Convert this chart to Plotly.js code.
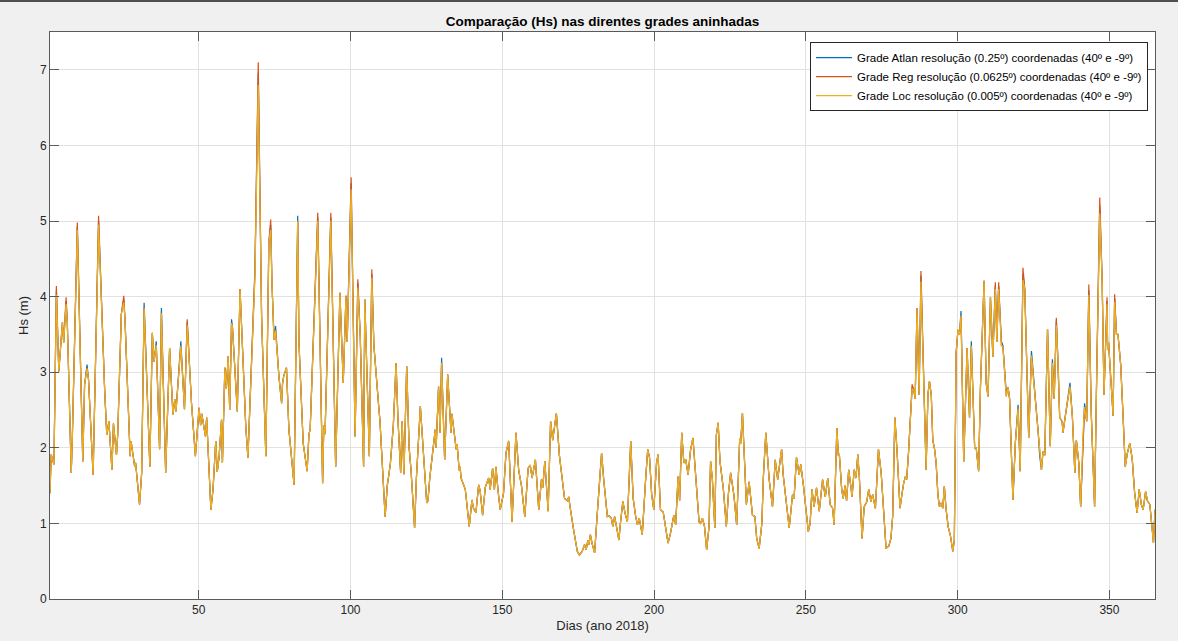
<!DOCTYPE html>
<html>
<head>
<meta charset="utf-8">
<script src="https://cdn.plot.ly/plotly-3.0.1.min.js"></script>
<style>
  html, body { margin: 0; padding: 0; background: #f0f0f0; }
  #chart { width: 1178px; height: 641px; }
</style>
</head>
<body>
<div id="chart"></div>
<script>
// Dia do ano (2018)
const dias = [
  1.0,1.4,2.3,3.1,3.9,4.5,5.1,5.5,6.3,6.7,
  8.0,8.4,10.0,11.8,12.4,13.2,13.7,15.2,17.0,19.0,
  19.7,20.4,21.4,21.9,22.9,23.3,24.5,25.3,25.7,27.4,
  27.7,28.9,29.2,30.5,31.2,32.0,33.9,34.7,35.3,36.0,
  37.1,37.7,39.1,40.4,41.5,42.1,42.5,44.1,45.3,46.2,
  47.6,48.9,50.1,50.6,51.0,52.2,52.6,54.0,54.7,55.6,
  56.1,56.7,57.5,57.8,58.6,59.1,59.7,60.2,60.8,61.1,
  62.7,63.6,65.5,66.2,66.8,68.5,69.6,70.7,72.1,73.1,
  73.7,74.1,74.8,75.3,76.4,77.3,77.6,78.0,78.9,79.7,
  81.4,82.6,83.0,84.4,85.7,86.3,86.7,88.3,89.2,90.8,
  91.2,91.6,93.5,95.1,96.5,97.6,98.5,98.9,100.2,101.5,
  102.4,103.2,104.3,104.7,105.1,106.2,107.0,107.7,109.2,109.7,
  111.4,112.1,113.1,113.7,114.1,115.0,115.6,116.5,117.0,117.6,
  118.5,119.3,119.9,121.1,121.7,123.0,123.5,124.1,125.1,125.5,
  126.1,127.9,128.2,129.0,129.5,130.0,131.0,132.0,132.5,133.1,
  133.4,134.8,135.1,135.8,136.1,136.4,137.8,139.1,140.0,140.5,
  141.3,142.2,142.7,143.5,144.4,145.5,146.0,146.8,147.4,147.9,
  148.6,149.3,150.4,151.2,152.1,153.2,154.5,155.4,156.3,157.4,
  158.5,159.2,159.8,160.9,162.0,162.9,163.3,164.0,165.1,165.9,
  166.6,167.8,168.8,169.7,170.5,171.4,171.9,172.2,173.0,173.5,
  174.7,175.4,176.3,177.1,177.6,178.2,178.5,179.0,179.6,180.4,
  181.3,181.8,182.7,183.4,184.6,185.1,185.9,186.4,187.0,187.6,
  188.4,188.9,189.7,190.4,191.2,192.3,193.1,193.9,194.5,195.1,
  196.1,197.2,197.9,198.5,199.2,199.9,200.8,201.3,202.1,203.0,
  203.8,204.6,205.4,206.5,207.1,207.9,208.4,209.1,209.8,210.4,
  211.2,212.0,212.8,213.9,214.8,215.3,215.9,216.6,217.3,218.1,
  218.6,219.2,220.0,220.5,221.1,221.7,222.8,223.8,224.5,225.2,
  226.3,227.2,228.2,228.5,229.1,230.4,231.3,232.4,233.2,233.8,
  234.6,235.5,236.0,236.8,237.9,239.0,239.9,240.7,241.2,242.0,
  242.5,243.2,244.5,245.6,246.1,246.9,247.8,248.3,249.2,250.8,
  251.4,252.0,252.7,253.5,254.4,255.5,256.4,257.2,258.0,258.8,
  259.3,260.2,260.7,261.0,261.8,262.3,262.9,263.4,264.1,264.9,
  265.2,265.9,266.5,267.1,267.6,268.5,269.2,270.0,270.7,271.4,
  272.0,272.9,273.9,274.8,276.4,277.3,278.0,278.6,279.3,280.0,
  281.0,281.7,282.2,282.8,283.2,283.8,284.3,285.0,285.5,286.0,
  286.6,287.3,287.9,288.5,289.6,290.2,290.7,291.3,291.8,292.4,
  292.9,293.5,294.0,294.6,295.1,295.6,296.2,296.9,297.6,298.4,
  298.9,299.5,300.1,300.6,301.1,302.0,302.6,303.1,303.9,304.5,
  305.6,306.1,306.9,307.5,308.7,309.4,310.0,310.8,311.6,312.4,
  312.9,313.5,314.4,314.9,316.0,316.6,317.1,318.2,319.0,319.9,
  320.6,321.5,322.1,323.4,324.3,325.0,325.7,326.5,327.0,327.6,
  328.1,328.7,329.6,330.5,331.2,331.8,332.5,333.1,333.6,334.4,
  334.7,335.2,336.1,337.0,337.8,338.6,339.1,339.9,340.5,341.3,
  341.8,342.5,343.2,344.0,345.1,345.7,346.8,347.6,348.2,349.2,
  349.4,349.7,351.2,351.7,352.3,352.8,353.7,354.5,355.2,355.9,
  356.7,357.5,358.3,359.1,359.8,360.5,361.1,361.9,362.5,363.3,
  364.1,364.5,365.0
];

// Grade Atlan (0.25º)
const hsAtlan = [
  1.40,1.91,1.78,4.08,3.01,3.34,3.66,3.39,3.94,3.66,
  1.67,2.2,4.93,1.82,2.84,3.10,2.9,1.64,5.00,2.77,
  2.17,2.35,1.71,2.32,1.91,2.17,3.77,3.96,3.7,1.89,
  2.09,1.75,1.8,1.25,1.67,3.92,1.75,3.52,3.14,3.41,
  1.98,3.85,1.67,3.32,2.44,2.64,2.48,3.41,2.51,3.66,
  2.60,1.89,2.53,2.3,2.45,2.15,2.4,1.18,1.45,2.09,
  1.68,1.88,2.37,1.8,3.06,2.78,3.21,2.5,3.70,3.6,
  2.48,4.10,2.28,1.87,2.5,4.30,6.95,3.74,1.89,4.72,
  4.95,4.2,3.43,3.61,2.95,2.59,2.85,2.95,3.06,2.24,
  1.51,5.07,3.4,2.06,1.69,2.18,2.24,3.96,5.05,1.53,
  2.3,2.18,5.05,1.75,4.05,2.86,4.01,3.4,5.50,2.15,
  4.18,3.48,1.75,3.96,3.4,1.89,4.30,3.35,2.59,2.35,
  1.09,1.5,1.78,2.17,2.3,3.12,2.4,1.67,2.35,1.65,
  3.08,2.0,1.72,0.94,1.6,2.55,2.25,1.85,1.27,1.3,
  1.6,2.24,2.0,2.81,2.2,3.19,1.84,2.97,2.65,2.2,
  2.45,1.98,2.05,1.7,1.75,1.6,1.45,0.96,1.31,1.2,
  1.14,1.51,1.43,1.11,1.48,1.60,1.45,1.73,1.45,1.75,
  1.43,1.18,1.4,1.93,2.09,1.02,2.20,1.7,1.5,1.09,
  1.73,1.77,1.6,1.84,1.18,1.58,1.47,1.82,1.16,2.35,
  2.1,2.46,1.9,1.55,1.33,1.3,1.35,1.25,1.0,0.91,
  0.63,0.58,0.63,0.72,0.65,0.78,0.72,0.85,0.73,0.61,
  1.14,1.4,1.93,1.58,1.09,1.1,1.07,0.96,1.09,0.96,
  0.78,1.0,1.29,1.14,1.02,2.09,1.33,1.1,0.98,1.07,
  0.85,1.58,1.98,1.87,1.38,1.18,1.8,1.91,1.18,1.15,
  0.91,0.74,0.87,1.11,0.98,1.62,1.3,2.20,1.8,1.85,
  1.64,1.97,2.13,1.46,1.02,1.0,1.07,0.96,0.65,0.96,
  1.82,1.58,0.94,2.17,2.33,1.82,1.46,0.96,1.4,1.67,
  1.37,0.98,2.13,2.05,2.46,1.25,1.55,1.11,1.09,0.80,
  0.67,1.0,1.62,2.20,1.58,1.22,1.84,1.58,1.75,1.98,
  1.65,1.40,0.94,1.38,1.33,1.87,1.64,1.78,1.5,0.89,
  1.0,1.45,1.22,1.47,1.16,1.58,1.35,1.60,1.25,1.2,
  0.98,2.26,1.9,1.92,1.45,1.33,1.5,1.3,1.71,1.46,
  1.35,1.71,1.6,1.91,1.62,0.80,1.22,1.28,1.45,1.29,
  1.38,1.2,1.98,1.67,0.67,0.7,0.80,1.1,2.40,1.98,
  1.20,1.4,1.53,1.62,1.58,1.93,2.27,2.80,2.77,2.65,
  3.85,2.70,4.28,3.3,1.71,2.7,2.88,2.7,2.1,1.98,
  1.8,1.37,1.22,1.27,1.2,1.49,1.18,0.95,0.84,0.63,
  0.78,3.26,3.56,3.5,3.81,1.82,2.7,3.32,2.4,3.41,
  2.0,2.0,1.69,2.8,4.21,2.85,2.68,3.99,3.2,4.14,
  3.4,4.14,3.41,3.35,2.73,2.8,2.65,1.31,2.07,2.57,
  1.69,4.30,4.1,2.13,3.28,2.9,2.6,2.22,1.9,1.71,
  1.95,1.9,3.57,2.02,3.17,2.65,3.68,3.1,2.4,2.35,
  2.2,2.35,2.6,2.86,2.4,1.67,2.1,1.8,1.22,2.2,
  2.59,2.35,4.08,2.46,1.22,2.73,5.20,4.2,2.70,3.94,
  3.3,3.4,2.42,3.98,3.5,3.5,3.10,2.4,1.75,1.93,
  2.06,1.85,1.4,1.14,1.45,1.25,1.18,1.42,1.3,1.25,
  0.96,0.74,1.18
];

// Grade Reg (0.0625º)
const hsReg = [
  1.40,1.91,1.78,4.14,3.01,3.34,3.66,3.39,3.99,3.66,
  1.67,2.2,4.98,1.82,2.84,3.05,2.9,1.64,5.07,2.77,
  2.17,2.35,1.71,2.32,1.91,2.17,3.77,4.01,3.7,1.89,
  2.09,1.75,1.8,1.25,1.67,3.86,1.75,3.52,3.14,3.36,
  1.98,3.79,1.67,3.32,2.44,2.64,2.48,3.35,2.51,3.70,
  2.60,1.89,2.53,2.3,2.45,2.15,2.4,1.18,1.45,2.09,
  1.68,1.88,2.37,1.8,3.06,2.78,3.21,2.5,3.65,3.6,
  2.48,4.10,2.28,1.87,2.5,4.36,7.10,3.74,1.89,4.72,
  5.02,4.2,3.43,3.55,2.95,2.59,2.85,2.95,3.06,2.24,
  1.51,5.00,3.4,2.06,1.69,2.18,2.24,3.96,5.11,1.53,
  2.3,2.18,5.11,1.75,4.05,2.86,4.01,3.4,5.58,2.15,
  4.23,3.48,1.75,3.96,3.4,1.89,4.36,3.35,2.59,2.35,
  1.09,1.5,1.78,2.17,2.3,3.12,2.4,1.67,2.35,1.65,
  3.08,2.0,1.72,0.94,1.6,2.55,2.25,1.85,1.27,1.3,
  1.6,2.24,2.0,2.81,2.2,3.13,1.84,2.97,2.65,2.2,
  2.45,1.98,2.05,1.7,1.75,1.6,1.45,0.96,1.31,1.2,
  1.14,1.51,1.43,1.11,1.48,1.60,1.45,1.73,1.45,1.75,
  1.43,1.18,1.4,1.93,2.09,1.02,2.20,1.7,1.5,1.09,
  1.73,1.77,1.6,1.84,1.18,1.58,1.47,1.82,1.16,2.35,
  2.1,2.46,1.9,1.55,1.33,1.3,1.35,1.25,1.0,0.91,
  0.63,0.58,0.63,0.72,0.65,0.78,0.72,0.85,0.73,0.61,
  1.14,1.4,1.93,1.58,1.09,1.1,1.07,0.96,1.09,0.96,
  0.78,1.0,1.29,1.14,1.02,2.09,1.33,1.1,0.98,1.07,
  0.85,1.58,1.98,1.87,1.38,1.18,1.8,1.91,1.18,1.15,
  0.91,0.74,0.87,1.11,0.98,1.62,1.3,2.20,1.8,1.85,
  1.64,1.97,2.13,1.46,1.02,1.0,1.07,0.96,0.65,0.96,
  1.82,1.58,0.94,2.17,2.33,1.82,1.46,0.96,1.4,1.67,
  1.37,0.98,2.13,2.05,2.46,1.25,1.55,1.11,1.09,0.80,
  0.67,1.0,1.62,2.20,1.58,1.22,1.84,1.58,1.75,1.98,
  1.65,1.40,0.94,1.38,1.33,1.87,1.64,1.78,1.5,0.89,
  1.0,1.45,1.22,1.47,1.16,1.58,1.35,1.60,1.25,1.2,
  0.98,2.26,1.9,1.92,1.45,1.33,1.5,1.3,1.71,1.46,
  1.35,1.71,1.6,1.91,1.62,0.80,1.22,1.28,1.45,1.29,
  1.38,1.2,1.98,1.67,0.67,0.7,0.80,1.1,2.40,1.98,
  1.20,1.4,1.53,1.62,1.58,1.93,2.27,2.84,2.77,2.65,
  3.85,2.70,4.34,3.3,1.71,2.7,2.88,2.7,2.1,1.98,
  1.8,1.37,1.22,1.27,1.2,1.49,1.18,0.95,0.84,0.63,
  0.78,3.26,3.56,3.5,3.75,1.82,2.7,3.32,2.4,3.35,
  2.0,2.0,1.69,2.8,4.21,2.85,2.68,3.99,3.2,4.19,
  3.4,4.19,3.35,3.35,2.68,2.8,2.65,1.31,2.07,2.52,
  1.69,4.38,4.1,2.13,3.22,2.9,2.6,2.22,1.9,1.71,
  1.95,1.9,3.57,2.02,3.12,2.65,3.72,3.1,2.4,2.35,
  2.2,2.35,2.6,2.81,2.4,1.67,2.1,1.8,1.22,2.2,
  2.54,2.35,4.16,2.46,1.22,2.73,5.31,4.2,2.70,3.99,
  3.3,3.4,2.42,4.03,3.5,3.5,3.10,2.4,1.75,1.93,
  2.06,1.85,1.4,1.14,1.45,1.25,1.18,1.42,1.3,1.25,
  0.96,0.74,1.18
];

// Grade Loc (0.005º)
const hsLoc = [
  1.40,1.91,1.78,4.02,3.01,3.34,3.66,3.39,3.90,3.66,
  1.67,2.2,4.88,1.82,2.84,3.05,2.9,1.64,4.95,2.77,
  2.17,2.35,1.71,2.32,1.91,2.17,3.77,3.92,3.7,1.89,
  2.09,1.75,1.8,1.25,1.67,3.85,1.75,3.52,3.14,3.36,
  1.98,3.78,1.67,3.32,2.44,2.64,2.48,3.35,2.51,3.62,
  2.60,1.89,2.53,2.3,2.45,2.15,2.4,1.18,1.45,2.09,
  1.68,1.88,2.37,1.8,3.06,2.78,3.21,2.5,3.65,3.6,
  2.48,4.10,2.28,1.87,2.5,4.25,6.80,3.74,1.89,4.72,
  4.88,4.2,3.43,3.55,2.95,2.59,2.85,2.95,3.06,2.24,
  1.51,5.00,3.4,2.06,1.69,2.18,2.24,3.96,5.00,1.53,
  2.3,2.18,5.00,1.75,4.05,2.86,4.01,3.4,5.42,2.15,
  4.12,3.48,1.75,3.96,3.4,1.89,4.25,3.35,2.59,2.35,
  1.09,1.5,1.78,2.17,2.3,3.12,2.4,1.67,2.35,1.65,
  3.08,2.0,1.72,0.94,1.6,2.55,2.25,1.85,1.27,1.3,
  1.6,2.24,2.0,2.81,2.2,3.12,1.84,2.97,2.65,2.2,
  2.45,1.98,2.05,1.7,1.75,1.6,1.45,0.96,1.31,1.2,
  1.14,1.51,1.43,1.11,1.48,1.60,1.45,1.73,1.45,1.75,
  1.43,1.18,1.4,1.93,2.09,1.02,2.20,1.7,1.5,1.09,
  1.73,1.77,1.6,1.84,1.18,1.58,1.47,1.82,1.16,2.35,
  2.1,2.46,1.9,1.55,1.33,1.3,1.35,1.25,1.0,0.91,
  0.63,0.58,0.63,0.72,0.65,0.78,0.72,0.85,0.73,0.61,
  1.14,1.4,1.93,1.58,1.09,1.1,1.07,0.96,1.09,0.96,
  0.78,1.0,1.29,1.14,1.02,2.09,1.33,1.1,0.98,1.07,
  0.85,1.58,1.98,1.87,1.38,1.18,1.8,1.91,1.18,1.15,
  0.91,0.74,0.87,1.11,0.98,1.62,1.3,2.20,1.8,1.85,
  1.64,1.97,2.13,1.46,1.02,1.0,1.07,0.96,0.65,0.96,
  1.82,1.58,0.94,2.17,2.33,1.82,1.46,0.96,1.4,1.67,
  1.37,0.98,2.13,2.05,2.46,1.25,1.55,1.11,1.09,0.80,
  0.67,1.0,1.62,2.20,1.58,1.22,1.84,1.58,1.75,1.98,
  1.65,1.40,0.94,1.38,1.33,1.87,1.64,1.78,1.5,0.89,
  1.0,1.45,1.22,1.47,1.16,1.58,1.35,1.60,1.25,1.2,
  0.98,2.26,1.9,1.92,1.45,1.33,1.5,1.3,1.71,1.46,
  1.35,1.71,1.6,1.91,1.62,0.80,1.22,1.28,1.45,1.29,
  1.38,1.2,1.98,1.67,0.67,0.7,0.80,1.1,2.40,1.98,
  1.20,1.4,1.53,1.62,1.58,1.93,2.27,2.78,2.77,2.65,
  3.85,2.70,4.20,3.3,1.71,2.7,2.88,2.7,2.1,1.98,
  1.8,1.37,1.22,1.27,1.2,1.49,1.18,0.95,0.84,0.63,
  0.78,3.26,3.56,3.5,3.75,1.82,2.7,3.32,2.4,3.35,
  2.0,2.0,1.69,2.8,4.21,2.85,2.68,3.99,3.2,4.10,
  3.4,4.10,3.35,3.35,2.68,2.8,2.65,1.31,2.07,2.52,
  1.69,4.22,4.1,2.13,3.22,2.9,2.6,2.22,1.9,1.71,
  1.95,1.9,3.57,2.02,3.12,2.65,3.62,3.1,2.4,2.35,
  2.2,2.35,2.6,2.81,2.4,1.67,2.1,1.8,1.22,2.2,
  2.54,2.35,4.02,2.46,1.22,2.73,5.10,4.2,2.70,3.90,
  3.3,3.4,2.42,3.93,3.5,3.5,3.10,2.4,1.75,1.93,
  2.06,1.85,1.4,1.14,1.45,1.25,1.18,1.42,1.3,1.25,
  0.96,0.74,1.18
];

const seriesNames = [
  'Grade Atlan resolução (0.25º) coordenadas (40º e -9º)',
  'Grade Reg resolução (0.0625º) coordenadas (40º e -9º)',
  'Grade Loc resolução (0.005º) coordenadas (40º e -9º)'
];
const seriesColors = ['#0072BD', '#D95319', '#EDB120'];
const xTicks = [50, 100, 150, 200, 250, 300, 350];
const yTicks = [0, 1, 2, 3, 4, 5, 6, 7];

const values = [hsAtlan, hsReg, hsLoc];
const traces = values.map((v, i) => ({
  type: 'scatter',
  mode: 'lines',
  x: dias,
  y: v,
  name: seriesNames[i],
  line: { color: seriesColors[i], width: 1.2 }
}));

const fontFam = 'Arial, "Liberation Sans", Helvetica, sans-serif';
const axisCommon = {
  showline: true,
  linecolor: '#5a5a5a',
  linewidth: 1,
  mirror: 'ticks',
  ticks: 'inside',
  ticklen: 9,
  tickwidth: 1,
  tickcolor: '#5a5a5a',
  showgrid: true,
  gridcolor: '#e2e2e2',
  gridwidth: 1,
  zeroline: false,
  tickfont: { family: fontFam, size: 12, color: '#262626' }
};

const layout = {
  width: 1178,
  height: 641,
  paper_bgcolor: '#f0f0f0',
  plot_bgcolor: '#ffffff',
  margin: { l: 50, r: 23, t: 32, b: 42 },
  showlegend: true,
  title: {
    text: '<b>Comparação (Hs) nas direntes grades aninhadas</b>',
    font: { family: fontFam, size: 13.5, color: '#000000' },
    x: 0.5, xref: 'paper', xanchor: 'center',
    y: 0.967, yref: 'container', yanchor: 'middle'
  },
  xaxis: Object.assign({}, axisCommon, {
    range: [1, 365],
    tickvals: xTicks,
    title: { text: 'Dias (ano 2018)', font: { family: fontFam, size: 13, color: '#262626' }, standoff: 4 }
  }),
  yaxis: Object.assign({}, axisCommon, {
    range: [0, 7.5],
    tickvals: yTicks,
    title: { text: 'Hs (m)', font: { family: fontFam, size: 13, color: '#262626' }, standoff: 8 }
  }),
  legend: {
    x: 0.9937, y: 0.982, xanchor: 'right', yanchor: 'top',
    bgcolor: '#ffffff',
    bordercolor: '#262626',
    borderwidth: 1,
    font: { family: fontFam, size: 11.5, color: '#000000' },
    itemwidth: 36,
    tracegroupgap: 0
  },
  shapes: [{
    type: 'rect', xref: 'paper', yref: 'paper',
    x0: -0.06, x1: 1.03, y0: 1.0529, y1: 1.06,
    fillcolor: '#505050', line: { width: 0 }, layer: 'above'
  }]
};

Plotly.newPlot('chart', traces, layout, { displayModeBar: false, staticPlot: true });
</script>
</body>
</html>
